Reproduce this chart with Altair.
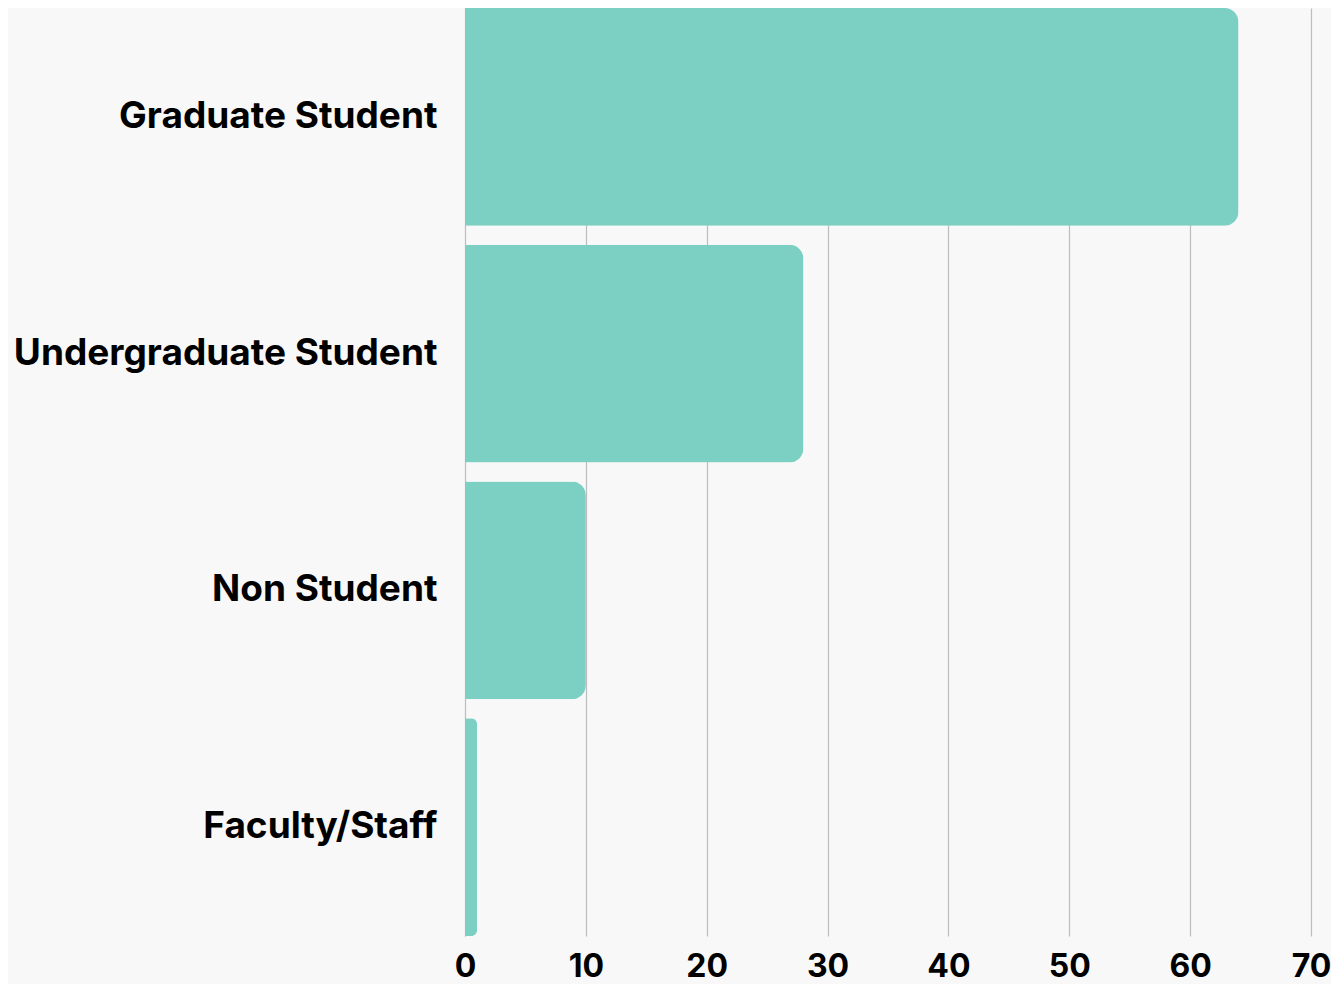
import altair as alt
import pandas as pd

categories = ["Graduate Student", "Undergraduate Student", "Non Student", "Faculty/Staff"]
values = [64, 28, 10, 1]
x_ticks = [0, 10, 20, 30, 40, 50, 60, 70]

df = pd.DataFrame({"category": categories, "value": values})

chart = alt.Chart(df).mark_bar(
    color="#7bd0c3", cornerRadiusEnd=14
).encode(
    x=alt.X("value:Q", scale=alt.Scale(domain=[0, 70], nice=False),
            axis=alt.Axis(values=x_ticks, title=None, domain=False, ticks=False,
                          labelFontSize=32, labelFont="Inter", labelFontWeight="bold",
                          labelColor="#000000", labelPadding=15, labelFlush=False,
                          grid=True, gridColor="#bdbdbd", gridWidth=1.2)),
    y=alt.Y("category:N", sort=categories,
            scale=alt.Scale(paddingInner=0.08, paddingOuter=0),
            axis=alt.Axis(title=None, ticks=False, domain=True, domainColor="#bdbdbd",
                          labelFontSize=37, labelFont="Inter", labelFontWeight="bold",
                          labelColor="#000000", labelPadding=28, labelLimit=600)),
).properties(
    width=846, height=928,
    background="#f8f8f8",
    padding={"left": 457, "top": 0, "right": 20, "bottom": 48},
    autosize=alt.AutoSizeParams(type="none"),
).configure_view(stroke=None)

chart.save("out.html", embed_options={"renderer": "svg", "actions": False})
